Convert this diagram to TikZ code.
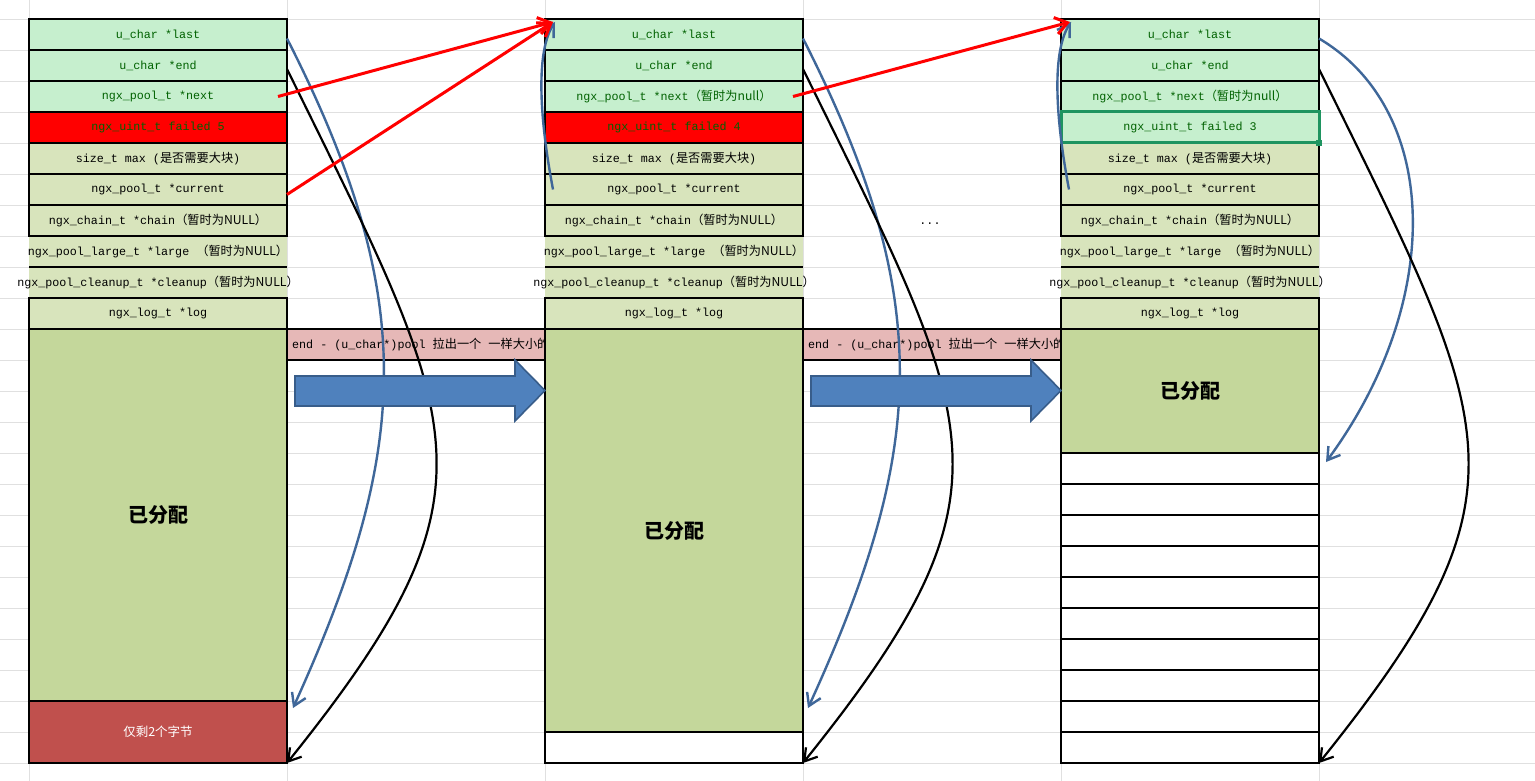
\documentclass[tikz,border=0pt]{standalone}
\usepackage{fontspec}
\usetikzlibrary{arrows.meta}
\newfontfamily\mono{Liberation Mono}
\newfontfamily\cjk{Noto Sans CJK SC}
\newcommand\zh[1]{{\cjk\fontsize{12.2}{13}\selectfont #1}}
\newcommand\cellbox[1]{\makebox[258pt]{#1}}
\definecolor{hdrgreen}{HTML}{C6EFCE}
\definecolor{txtgreen}{HTML}{006100}
\definecolor{palegreen}{HTML}{D8E4BC}
\definecolor{allocgreen}{HTML}{C4D79B}
\definecolor{bandpink}{HTML}{E6B8B7}
\definecolor{remred}{HTML}{C0504D}
\definecolor{gridgray}{HTML}{E0E0E0}
\definecolor{curveblue}{HTML}{3F6799}
\definecolor{bigblue}{HTML}{4F81BD}
\definecolor{bigblueedge}{HTML}{385D8A}
\definecolor{selgreen}{HTML}{1E9460}
\tikzset{
  cellbase/.style={minimum height=31pt, inner sep=0pt, outer sep=0pt, anchor=north west, font=\mono\fontsize{11.7}{13}\selectfont},
  cell/.style={cellbase, draw=black, line width=1.2pt},
  opencell/.style={cellbase},
  bigcell/.style={draw=black, line width=1.2pt, inner sep=0pt, outer sep=0pt, anchor=north west, minimum width=258pt},
  ptrblue/.style={draw=curveblue, line width=2.4pt, -{Straight Barb[length=12pt,width=15pt]}},
  ptrblack/.style={draw=black, line width=2.2pt, -{Straight Barb[length=12pt,width=15pt]}},
  ptrred/.style={draw=red, line width=3pt, -{Straight Barb[length=12pt,width=17pt]}},
  gridline/.style={draw=gridgray, line width=0.9pt},
  blockarrow/.style={fill=bigblue, draw=bigblueedge, line width=1.6pt},
}
\newcommand\poolhead[5]{%
  \node[opencell, fill=palegreen] (#1large) at (#2,236) {\cellbox{ngx\_pool\_large\_t *large \zh{（暂时为NULL）}}};
  \node[opencell, fill=palegreen] (#1cleanup) at (#2,267) {\cellbox{ngx\_pool\_cleanup\_t *cleanup\zh{（暂时为NULL）}}};
  \draw[line width=1.2pt] (#1large.south west) -- (#1large.south east);
  \node[cell, fill=hdrgreen, text=txtgreen] (#1last) at (#2,19) {\cellbox{u\_char *last}};
  \node[cell, fill=hdrgreen, text=txtgreen] (#1end) at (#2,50) {\cellbox{u\_char *end}};
  \node[cell, fill=hdrgreen, text=txtgreen] (#1next) at (#2,81) {\cellbox{#3}};
  \node[cell, #4] (#1failed) at (#2,112) {\cellbox{#5}};
  \node[cell, fill=palegreen] (#1max) at (#2,143) {\cellbox{size\_t max (\zh{是否需要大块})}};
  \node[cell, fill=palegreen] (#1current) at (#2,174) {\cellbox{ngx\_pool\_t *current}};
  \node[cell, fill=palegreen] (#1chain) at (#2,205) {\cellbox{ngx\_chain\_t *chain\zh{（暂时为NULL）}}};
  \node[cell, fill=palegreen] (#1log) at (#2,298) {\cellbox{ngx\_log\_t *log}};
}
\begin{document}
\begin{tikzpicture}[x=1pt, y=-1pt]
\useasboundingbox (0,0) rectangle (1535,781);
\fill[white] (0,0) rectangle (1535,781);
% spreadsheet grid
\foreach \k in {0,...,24} \draw[gridline] (0,{19+31*\k}) -- (1535,{19+31*\k});
\foreach \xx in {29,287,545,803,1061,1319} \draw[gridline] (\xx,0) -- (\xx,781);

% column 1
\poolhead{c1}{29}{ngx\_pool\_t *next}{fill=red, text=txtgreen}{ngx\_uint\_t failed 5}
\node[bigcell, fill=allocgreen, minimum height=372pt] (c1alloc) at (29,329) {\cjk\bfseries\fontsize{20}{24}\selectfont 已分配};
\node[bigcell, fill=remred, minimum height=62pt, text=white] (c1rem) at (29,701) {\cjk\fontsize{12.5}{14}\selectfont 仅剩2个字节};

% column 2
\poolhead{c2}{545}{ngx\_pool\_t *next\zh{（暂时为null）}}{fill=red, text=txtgreen}{ngx\_uint\_t failed 4}
\node[bigcell, fill=allocgreen, minimum height=403pt] (c2alloc) at (545,329) {\cjk\bfseries\fontsize{20}{24}\selectfont 已分配};
\node[bigcell, fill=white, minimum height=31pt] (c2free) at (545,732) {};

% column 3
\poolhead{c3}{1061}{ngx\_pool\_t *next\zh{（暂时为null）}}{fill=hdrgreen, text=txtgreen}{ngx\_uint\_t failed 3}
\node[bigcell, fill=allocgreen, minimum height=124pt] (c3alloc) at (1061,329) {\cjk\bfseries\fontsize{20}{24}\selectfont 已分配};
\foreach \j in {0,...,9} \node[bigcell, fill=white, minimum height=31pt] (c3w\j) at (1061,{453+31*\j}) {};
\draw[selgreen, line width=3pt] (c3failed.north west) rectangle (c3failed.south east);
\fill[selgreen] ([shift={(-3pt,3pt)}]c3failed.south east) rectangle ([shift={(3pt,-3pt)}]c3failed.south east);

% pink bands
\node[bigcell, fill=bandpink, minimum height=31pt] (band1) at (287,329) {};
\begin{scope}
  \clip (band1.north west) rectangle (band1.south east);
  \node[anchor=west, inner sep=0pt, font=\mono\fontsize{11.7}{13}\selectfont] (band1txt) at ([xshift=5pt]band1.west) {end - (u\_char*)pool \zh{拉出一个} \zh{一样大小的}};
\end{scope}
\node[bigcell, fill=bandpink, minimum height=31pt] (band2) at (803,329) {};
\begin{scope}
  \clip (band2.north west) rectangle (band2.south east);
  \node[anchor=west, inner sep=0pt, font=\mono\fontsize{11.7}{13}\selectfont] (band2txt) at ([xshift=5pt]band2.west) {end - (u\_char*)pool \zh{拉出一个} \zh{一样大小的}};
\end{scope}

% pointer curves
\draw[ptrblue] ([yshift=-4pt]c1last.east) .. controls (420,300) and (410,450) .. ([shift={(6pt,-7pt)}]c1alloc.south east);
\draw[ptrblack] ([yshift=-3.5pt]c1end.east) .. controls (464,429) and (507,489) .. (c1rem.south east);
\draw[ptrblue] ([yshift=-4pt]c2last.east) .. controls (936,300) and (926,450) .. ([shift={(5pt,24pt)}]c2alloc.south east);
\draw[ptrblack] ([yshift=-3.5pt]c2end.east) .. controls (980,429) and (1023,489) .. (c2free.south east);
\draw[ptrblue] ([yshift=-4pt]c3last.east) .. controls (1440,110) and (1445,300) .. ([shift={(7pt,-9pt)}]c3alloc.south east);
\draw[ptrblack] ([yshift=-3.5pt]c3end.east) .. controls (1496,429) and (1539,489) .. (c3w9.south east);
\draw[ptrblue] ([xshift=8pt]c2current.west) .. controls (538,110) and (537,50) .. ([shift={(10pt,-3pt)}]c2last.north west);
\draw[ptrblue] ([xshift=8pt]c3current.west) .. controls (1054,110) and (1053,50) .. ([shift={(10pt,-3pt)}]c3last.north west);

% block arrows
\path[blockarrow] (295,376) -- (515,376) -- (515,360) -- (545,390.5) -- (515,421) -- (515,406) -- (295,406) -- cycle;
\path[blockarrow] (811,376) -- (1031,376) -- (1031,360) -- (1061,390.5) -- (1031,421) -- (1031,406) -- (811,406) -- cycle;

% next / current links
\draw[ptrred] ([xshift=-9pt]c1next.east) -- ([shift={(8pt,-3pt)}]c2last.north west);
\draw[ptrred] ([yshift=-5pt]c1current.east) -- ([shift={(8pt,-3pt)}]c2last.north west);
\draw[ptrred] ([xshift=-10pt]c2next.east) -- ([shift={(9pt,-3pt)}]c3last.north west);

\node[font=\mono\fontsize{11.7}{13}\selectfont] (dots) at (930,224) {...};
\end{tikzpicture}
\end{document}
